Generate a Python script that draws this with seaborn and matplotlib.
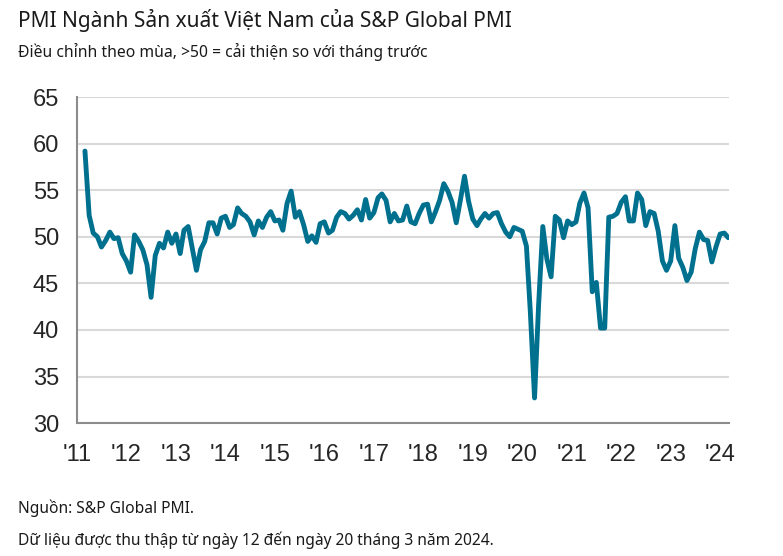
import numpy as np
import pandas as pd
import matplotlib.pyplot as plt
import matplotlib.dates as mdates
import seaborn as sns

# PMI hàng tháng, từ 03/2011 đến 03/2024
pmi_2011 = [59.2, 52.3, 50.4, 50.0, 48.9, 49.6, 50.5, 49.8, 49.9, 48.2]
pmi_2012 = [47.4, 46.2, 50.2, 49.5, 48.6, 47.0, 43.5, 48.0, 49.3, 48.8, 50.5, 49.3]
pmi_2013 = [50.3, 48.2, 50.7, 51.1, 48.8, 46.4, 48.6, 49.5, 51.5, 51.5, 50.3, 52.0]
pmi_2014 = [52.2, 51.0, 51.3, 53.1, 52.5, 52.2, 51.6, 50.2, 51.7, 51.0, 52.1, 52.7]
pmi_2015 = [51.7, 51.8, 50.7, 53.6, 54.9, 52.1, 52.7, 51.3, 49.5, 50.1, 49.4, 51.4]
pmi_2016 = [51.6, 50.4, 50.7, 52.1, 52.7, 52.5, 51.9, 52.3, 52.9, 51.8, 54.0, 52.0]
pmi_2017 = [52.6, 54.2, 54.6, 53.9, 51.6, 52.5, 51.7, 51.8, 53.3, 51.6, 51.4, 52.5]
pmi_2018 = [53.4, 53.5, 51.6, 52.7, 53.9, 55.7, 54.9, 53.7, 51.5, 53.9, 56.5, 53.8]
pmi_2019 = [51.9, 51.2, 51.9, 52.5, 52.0, 52.5, 52.6, 51.4, 50.5, 50.0, 51.0, 50.8]
pmi_2020 = [50.6, 49.0, 41.9, 32.7, 42.7, 51.1, 47.6, 45.7, 52.2, 51.8, 49.9, 51.7]
pmi_2021 = [51.3, 51.6, 53.6, 54.7, 53.1, 44.1, 45.1, 40.2, 40.2, 52.1, 52.2, 52.5]
pmi_2022 = [53.7, 54.3, 51.7, 51.7, 54.7, 54.0, 51.2, 52.7, 52.5, 50.6, 47.4, 46.4]
pmi_2023 = [47.4, 51.2, 47.7, 46.7, 45.3, 46.2, 48.7, 50.5, 49.7, 49.6, 47.3, 48.9]
pmi_2024 = [50.3, 50.4, 49.9]

year_labels = ["'11", "'12", "'13", "'14", "'15", "'16", "'17",
               "'18", "'19", "'20", "'21", "'22", "'23", "'24"]

values = (pmi_2011 + pmi_2012 + pmi_2013 + pmi_2014 + pmi_2015 + pmi_2016
          + pmi_2017 + pmi_2018 + pmi_2019 + pmi_2020 + pmi_2021
          + pmi_2022 + pmi_2023 + pmi_2024)
df = pd.DataFrame({
    "thang": pd.date_range("2011-03-01", periods=len(values), freq="MS"),
    "pmi": values,
})

sns.set_style("white")
plt.rcParams["font.family"] = ["Noto Sans", "DejaVu Sans"]

fig = plt.figure(figsize=(7.83, 5.56), dpi=100)
ax = fig.add_axes([0.0983, 0.239, 0.833, 0.5865])

sns.lineplot(data=df, x="thang", y="pmi", ax=ax, color="#00708F",
             linewidth=3.5, solid_joinstyle="round", zorder=3)

ax.set_ylim(30, 65)
ax.set_yticks(range(30, 70, 5))
ax.set_xlim(pd.Timestamp("2011-01-01"), pd.Timestamp("2024-03-08"))
ticks = pd.date_range("2011-01-01", periods=len(year_labels), freq="YS")
ax.set_xticks(ticks)
ax.set_xticklabels(year_labels)
ax.set_xlabel("")
ax.set_ylabel("")

ax.grid(axis="y", color="#D9D9D9", linewidth=1.5, zorder=0)
for s in ["top", "right"]:
    ax.spines[s].set_visible(False)
for s in ["left", "bottom"]:
    ax.spines[s].set_color("#8C8C8C")
    ax.spines[s].set_linewidth(1.5)
ax.tick_params(axis="both", length=7, width=1.5, color="#8C8C8C",
               direction="out", labelsize=17, pad=8)
ax.tick_params(axis="y", pad=6)
for lab in ax.get_xticklabels() + ax.get_yticklabels():
    lab.set_family(["Liberation Sans Narrow", "Liberation Sans"])

fig.text(0.023, 0.963, "PMI Ngành Sản xuất Việt Nam của S&P Global PMI",
         fontsize=15, color="#1A1A1A", va="center")
fig.text(0.023, 0.906, "Điều chỉnh theo mùa, >50 = cải thiện so với tháng trước",
         fontsize=11.3, color="#1A1A1A", va="center")
fig.text(0.023, 0.086, "Nguồn: S&P Global PMI.", fontsize=11.2,
         color="#1A1A1A", va="center")
fig.text(0.023, 0.028, "Dữ liệu được thu thập từ ngày 12 đến ngày 20 tháng 3 năm 2024.",
         fontsize=11.2, color="#1A1A1A", va="center")

fig.savefig("out.png", dpi=100)
